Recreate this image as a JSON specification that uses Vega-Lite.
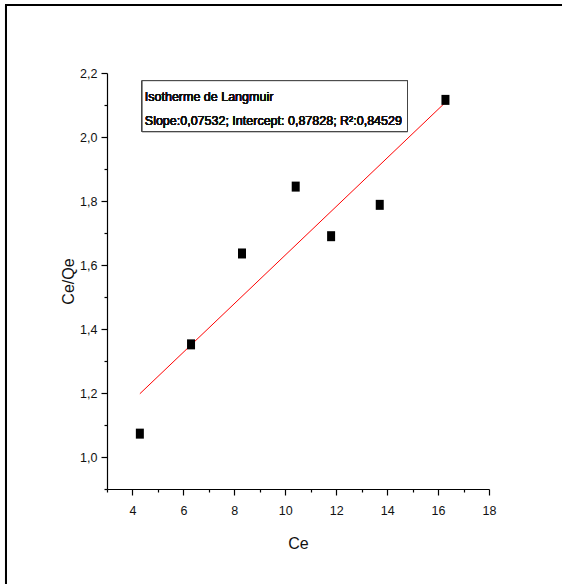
{
  "$schema": "https://vega.github.io/schema/vega-lite/v6.json",
  "autosize": {"type": "none"},
  "width": 382,
  "height": 416,
  "padding": {"left": 107, "top": 73, "right": 73, "bottom": 95},
  "background": "white",
  "config": {
    "view": {"stroke": null},
    "axis": {
      "grid": false,
      "domainColor": "black",
      "domainWidth": 1.2,
      "tickColor": "black",
      "tickWidth": 1.2,
      "labelColor": "#111",
      "labelFont": "Liberation Sans, Arial, sans-serif",
      "labelFontSize": 12.5,
      "titleFont": "Liberation Sans, Arial, sans-serif",
      "titleFontWeight": "normal",
      "titleFontSize": 16,
      "titleColor": "#111"
    }
  },
  "resolve": {"axis": {"x": "independent", "y": "independent"}},
  "data": {
    "values": [
      {"Ce": 4.29, "CeQe": 1.073},
      {"Ce": 6.30, "CeQe": 1.352},
      {"Ce": 8.30, "CeQe": 1.636},
      {"Ce": 10.41, "CeQe": 1.845},
      {"Ce": 11.80, "CeQe": 1.690},
      {"Ce": 13.71, "CeQe": 1.788},
      {"Ce": 16.29, "CeQe": 2.116}
    ]
  },
  "layer": [
    {
      "transform": [{"regression": "CeQe", "on": "Ce"}],
      "mark": {"type": "line", "color": "red", "strokeWidth": 1},
      "encoding": {
        "x": {
          "field": "Ce", "type": "quantitative",
          "scale": {"domain": [3, 18], "nice": false, "zero": false},
          "axis": {"orient": "bottom", "title": null, "values": [3,5,7,9,11,13,15,17], "labels": false, "tickSize": 3, "domain": false}
        },
        "y": {
          "field": "CeQe", "type": "quantitative",
          "scale": {"domain": [0.9, 2.2], "nice": false, "zero": false},
          "axis": {"orient": "left", "title": null, "values": [0.9,1.1,1.3,1.5,1.7,1.9,2.1], "labels": false, "tickSize": 3, "domain": false}
        }
      }
    },
    {
      "mark": {"type": "point", "shape": "M-0.8,-1H0.8V1H-0.8Z", "filled": true, "color": "black", "size": 100, "opacity": 1},
      "encoding": {
        "x": {
          "field": "Ce", "type": "quantitative",
          "axis": {
            "orient": "bottom",
            "title": "Ce",
            "values": [4,6,8,10,12,14,16,18],
            "format": "d",
            "tickSize": 6,
            "labelPadding": 9,
            "titlePadding": 19,
            "labelFlush": false,
            "labelOverlap": false
          }
        },
        "y": {
          "field": "CeQe", "type": "quantitative",
          "axis": {
            "orient": "left",
            "title": "Ce/Qe",
            "values": [1.0,1.2,1.4,1.6,1.8,2.0,2.2],
            "labelExpr": "replace(format(datum.value, '.1f'), '.', ',')",
            "tickSize": 6,
            "labelPadding": 4,
            "titlePadding": 3,
            "labelFlush": false,
            "labelOverlap": false
          }
        }
      }
    },
    {
      "mark": {"type": "rule", "color": "black", "strokeWidth": 2, "clip": false},
      "encoding": {
        "x": {"datum": -0.966, "type": "quantitative", "axis": null},
        "y": {"datum": 2.4125, "type": "quantitative", "axis": null},
        "y2": {"datum": 0.55}
      }
    },
    {
      "mark": {"type": "rule", "color": "black", "strokeWidth": 2, "clip": false},
      "encoding": {
        "x": {"datum": -1.0, "type": "quantitative", "axis": null},
        "x2": {"datum": 21.0},
        "y": {"datum": 2.4125, "type": "quantitative", "axis": null}
      }
    },
    {
      "mark": {"type": "rect", "fill": "white", "stroke": "#444", "strokeWidth": 1},
      "encoding": {
        "x": {"datum": 4.378, "type": "quantitative", "axis": null},
        "x2": {"datum": 14.80},
        "y": {"datum": 2.176, "type": "quantitative", "axis": null},
        "y2": {"datum": 2.017}
      }
    },
    {
      "mark": {"type": "text", "align": "left", "baseline": "alphabetic", "font": "Liberation Sans, Arial, sans-serif", "fontSize": 12.5, "fontWeight": "normal", "color": "#111"},
      "encoding": {
        "x": {"datum": 4.484, "type": "quantitative", "axis": null},
        "y": {"datum": 2.1133, "type": "quantitative", "axis": null},
        "text": {"value": "Isotherme de Langmuir"}
      }
    },
    {
      "mark": {"type": "text", "align": "left", "baseline": "alphabetic", "font": "Liberation Sans, Arial, sans-serif", "fontSize": 12.5, "fontWeight": "normal", "color": "#111"},
      "encoding": {
        "x": {"datum": 4.484, "type": "quantitative", "axis": null},
        "y": {"datum": 2.0379, "type": "quantitative", "axis": null},
        "text": {"value": "Slope:0,07532; Intercept: 0,87828; R²:0,84529"}
      }
    }
  ]
}
